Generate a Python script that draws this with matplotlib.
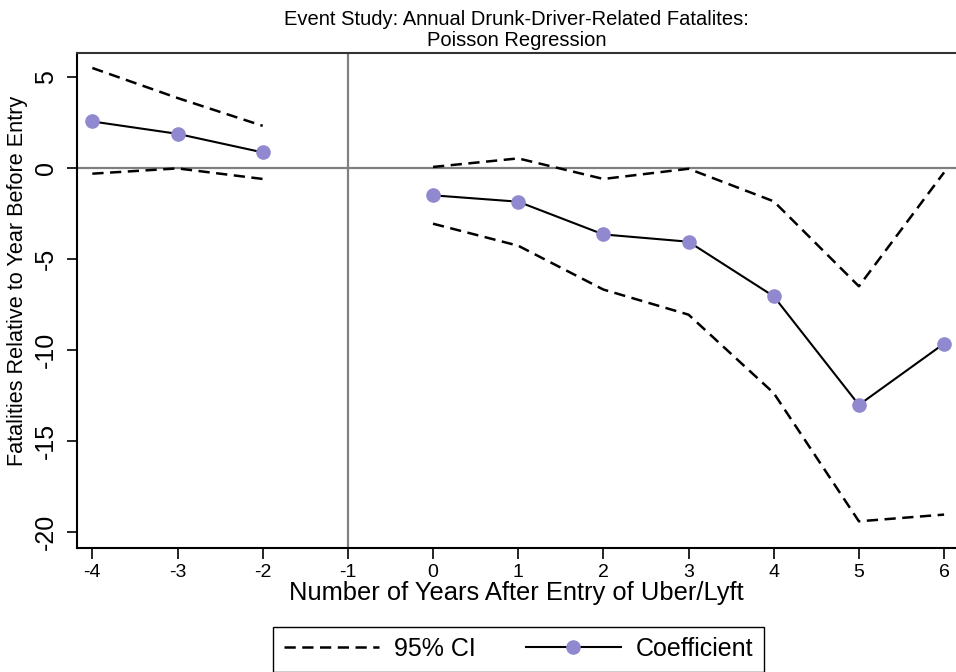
import matplotlib
matplotlib.use("Agg")
import matplotlib.pyplot as plt
import numpy as np

plt.rcParams["font.family"] = ["Liberation Sans", "DejaVu Sans"]

# event-study estimates
years = [-4, -3, -2, 0, 1, 2, 3, 4, 5, 6]
coef = [2.58, 1.9, 0.88, -1.48, -1.83, -3.63, -4.03, -7.03, -13.0, -9.63]
ci_hi = [5.52, 3.87, 2.34, 0.08, 0.55, -0.58, -0.02, -1.81, -6.48, -0.22]
ci_lo = [-0.29, 0.0, -0.58, -3.04, -4.25, -6.66, -8.04, -12.35, -19.4, -19.03]

xticks = [-4, -3, -2, -1, 0, 1, 2, 3, 4, 5, 6]
yticks = [5, 0, -5, -10, -15, -20]

fig = plt.figure(figsize=(9.56, 6.72), dpi=100)
ax = fig.add_axes([77 / 956, 124.3 / 672, 879 / 956, 495 / 672])

mcol = "#9089cf"
ax.axhline(0, color="#808080", lw=1.6, zorder=1)
ax.axvline(-1, color="#808080", lw=1.6, zorder=1)

# pre and post periods are plotted as separate segments (gap at -1)
pre = slice(0, 3)
post = slice(3, None)
dash = (4.5, 2.6)
for s in (pre, post):
    l_ci, = ax.plot(years[s], ci_hi[s], color="black", lw=1.8, dashes=dash, zorder=2)
    ax.plot(years[s], ci_lo[s], color="black", lw=1.8, dashes=dash, zorder=2)
    l_co, = ax.plot(years[s], coef[s], color="black", lw=1.5, marker="o",
                    ms=9.5, mfc=mcol, mec=mcol, zorder=3)

ax.set_xlim(-4.18, 6.14)
ax.set_ylim(-20.85, 6.36)
ax.set_xticks(xticks)
ax.set_xticklabels([str(t) for t in xticks])
ax.set_yticks(yticks)
ax.set_yticklabels([str(t) for t in yticks], rotation=90, va="center")
ax.tick_params(axis="x", length=8, width=1.2, labelsize=14, pad=4)
ax.tick_params(axis="y", length=7.5, width=1.2, labelsize=18, pad=6.5)

ax.spines["right"].set_visible(False)
for sp in ("left", "bottom", "top"):
    ax.spines[sp].set_linewidth(1.5)
ax.spines["top"].set_color("#333333")

ax.set_xlabel("Number of Years After Entry of Uber/Lyft", fontsize=18.4, labelpad=0)
ax.set_ylabel("Fatalities Relative to Year Before Entry", fontsize=15.6)
ax.yaxis.set_label_coords(-49 / 879, 0.54)
ax.set_title("Event Study: Annual Drunk-Driver-Related Fatalites:\nPoisson Regression",
             fontsize=14.5, linespacing=1.1, pad=5)

fig.legend([l_ci, l_co], ["95% CI", "Coefficient"], loc="upper center",
           bbox_to_anchor=(518.5 / 956, 1 - 626.7 / 672), ncol=2, fontsize=18,
           frameon=True, fancybox=False, edgecolor="black", framealpha=1,
           handlelength=3.8, numpoints=1, columnspacing=2.0, borderpad=0.42,
           handletextpad=0.6, borderaxespad=0)

fig.savefig("out.png", dpi=100)
